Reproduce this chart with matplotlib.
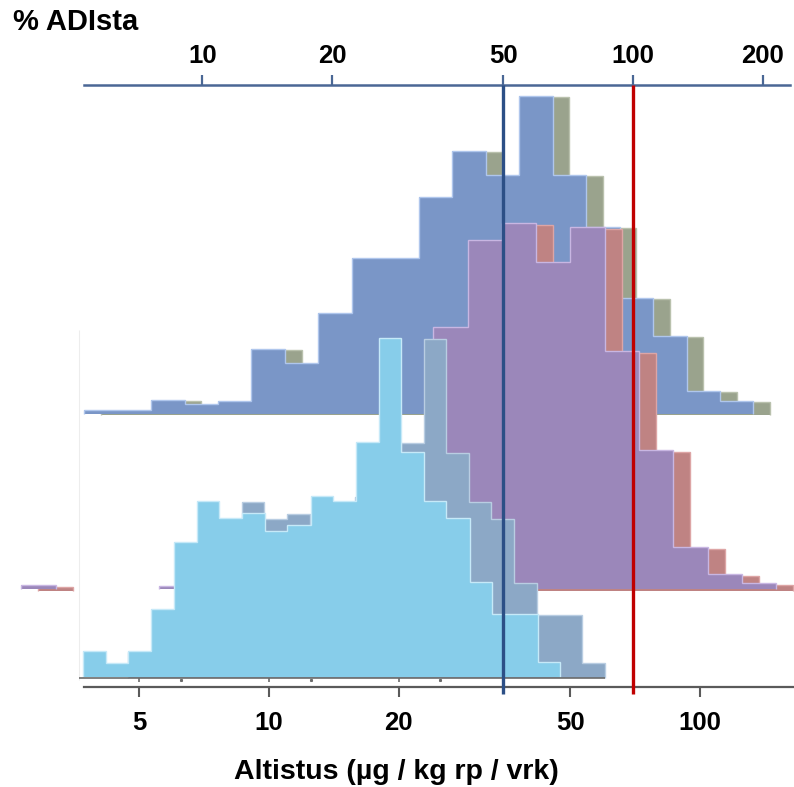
import numpy as np
import matplotlib
matplotlib.use("Agg")
import matplotlib.pyplot as plt
from matplotlib.ticker import NullLocator

plt.rcParams['font.family'] = ['Liberation Sans', 'DejaVu Sans']

# ---------------- data ----------------
ADI = 70.0  # µg / kg rp / vrk  (100 % ADI)

# top distribution (blue, with shadow)
top_edges = [3.72, 4.45, 5.32, 6.37, 7.61, 9.10, 10.9, 13.0, 15.6, 18.6, 22.3,
             26.6, 31.8, 38.1, 45.5, 54.4, 65.1, 77.8, 93.1, 111.3, 133.1]
top_heights = [4, 4, 14, 10, 13, 65, 51, 101, 156, 156, 217, 263, 239, 318,
               239, 187, 116, 78, 23, 13]

# middle distribution (purple, with shadow); nan = empty range
mid_edges = [2.66, 3.20, 5.55, 6.66, 8.00, 9.61, 11.5, 13.9, 16.7, 20.0, 24.0,
             28.9, 34.7, 41.7, 50.0, 60.1, 72.2, 86.7, 104.2, 125.2, 150.3]
mid_heights = [4, np.nan, 3, 8, 20, 35, 50, 70, 140, 145, 262, 349, 366, 327,
               362, 238, 139, 42, 15, 6]

# bottom distribution (light blue, with shadow)
bot_edges = [3.70, 4.18, 4.72, 5.33, 6.02, 6.80, 7.67, 8.66, 9.78, 11.0, 12.5,
             14.1, 15.9, 18.0, 20.3, 22.9, 25.8, 29.2, 32.9, 37.2, 42.0, 47.4]
bot_heights = [26, 14, 26, 68, 135, 176, 159, 164, 146, 152, 181, 176, 235,
               339, 225, 176, 159, 95, 63, 63, 15]

bottom_ticks = [5, 10, 20, 50, 100]
top_ticks = [10, 20, 50, 100, 200]
ref_lines_pct = [50, 100]

# ---------------- figure ----------------
W, H = 794, 787
fig = plt.figure(figsize=(W / 100, H / 100), dpi=100)
ax = fig.add_axes([0, 0, 1, 1])
ax.set_xscale('log')
ax.set_xlim(2.376, 165.3)
ax.set_ylim(H, 0)


def draw_row(edges, heights, base, fc, ec, bc, bec, shift, dy, z):
    e = np.asarray(edges, float)
    h = np.asarray(heights, float)
    ax.stairs(base + dy - h, e * shift, baseline=base + dy, fill=True,
              facecolor=bc, edgecolor='none', zorder=z)
    ax.stairs(base + dy - h, e * shift, baseline=base + dy, fill=False,
              color=bec, lw=1.0, zorder=z + 0.1)
    ax.stairs(base - h, e, baseline=base, fill=True,
              facecolor=fc, edgecolor='none', zorder=z + 0.2)
    ax.stairs(base - h, e, baseline=base, fill=False,
              color=ec, lw=1.0, zorder=z + 0.3)


draw_row(top_edges, top_heights, 414, '#7A96C7', '#AFC6EC', '#9AA38D', '#B9C1AD',
         1.093, 1, 1)
draw_row(mid_edges, mid_heights, 589, '#9B87BA', '#C8B6E2', '#BF8383', '#DDA5A5',
         1.095, 2, 2)
draw_row(bot_edges, bot_heights, 677, '#87CDEA', '#C6E9F8', '#8CA8C6', '#B9CDE2',
         1.27, 1, 3)

# faint separator and baseline of bottom row
ax.vlines(3.62, 330, 680, color='#EDEDED', lw=0.8, zorder=0)
ax.hlines(678, 3.62, bot_edges[-1] * 1.27, color='#6B6B6B', lw=1.2, zorder=5)
ax.vlines(bottom_ticks[:3], 678, 682, color='#6B6B6B', lw=1.2, zorder=5)
ax.plot([6.25, 12.5, 25], [680, 680, 680], ls='none', marker='s', ms=1.2,
        color='#6B6B6B', zorder=5)

# reference lines (50 % and 100 % ADI)
ax.vlines([p * ADI / 100 for p in ref_lines_pct], 85, 694,
          colors=['#2C4F86', '#C00000'], lw=2.4, zorder=10)

# bottom axis
for s in ['top', 'left', 'right']:
    ax.spines[s].set_visible(False)
ax.spines['bottom'].set_position(('data', 687))
ax.spines['bottom'].set_color('#5A5A5A')
ax.spines['bottom'].set_linewidth(1.6)
ax.spines['bottom'].set_bounds(top_edges[0], 165.3)
ax.set_xticks(bottom_ticks)
ax.set_xticklabels([str(t) for t in bottom_ticks], fontsize=18.5, fontweight='bold')
ax.xaxis.set_minor_locator(NullLocator())
ax.tick_params(axis='x', direction='out', length=7, width=1.5, color='#5A5A5A',
               pad=10)
ax.yaxis.set_visible(False)

# top axis (% ADI)
sec = ax.secondary_xaxis(1 - 85 / H,
                         functions=(lambda v: v / ADI * 100,
                                    lambda p: p * ADI / 100))
sec.set_xticks(top_ticks)
sec.set_xticklabels([str(t) for t in top_ticks], fontsize=18.5, fontweight='bold')
sec.xaxis.set_minor_locator(NullLocator())
sec.tick_params(axis='x', direction='out', length=7.5, width=1.6, color='#4A6795',
                pad=5)
sec.spines['top'].set_color('#4A6795')
sec.spines['top'].set_linewidth(1.8)
sec.spines['top'].set_bounds(top_edges[0] / ADI * 100, 231)

fig.text(13 / W, 1 - 22 / H, '% ADIsta', ha='left', va='center',
         fontsize=21, fontweight='bold')
fig.text(396 / W, 1 - 772 / H, 'Altistus (µg / kg rp / vrk)', ha='center',
         va='center', fontsize=20.5, fontweight='bold')

fig.savefig('out.png', dpi=100)
